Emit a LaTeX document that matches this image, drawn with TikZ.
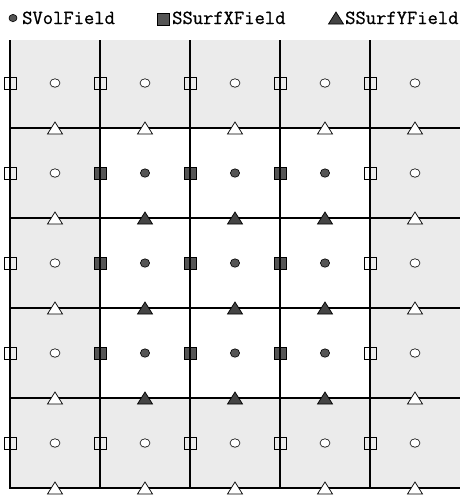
\documentclass[tikz,border=0pt]{standalone}
\usepackage{fontspec}
\newfontfamily\legendfont[AutoFakeBold=0.8]{Latin Modern Mono}
\usetikzlibrary{shadows}

\definecolor{ghost}{RGB}{235,235,235}
\definecolor{darkfield}{RGB}{85,85,85}

\begin{document}
\begin{tikzpicture}[x=1pt, y=-1pt, line join=miter]

    % 格子: 列线 x = 10 + 90 i, 行线 y = 128 + 90 j (图像坐标, y 向下)
    \tikzset{
      gridline/.style={line width=1.9pt},
      vol/.style={draw=black, line width=0.6pt, fill=white,
        drop shadow={opacity=0.15, shadow xshift=-0.6pt, shadow yshift=-1.2pt}},
      voldark/.style={vol, fill=darkfield},
      surf/.style={draw=black, line width=0.7pt},
      surfdark/.style={surf, fill=darkfield},
      legendtext/.style={anchor=base west, inner sep=0pt,
        font=\legendfont\bfseries\fontsize{20}{22}\selectfont}
    }
    \useasboundingbox (0,0) rectangle (469,499);

    % 1. 背景 (幽灵单元为灰色, 内部单元为白色)
    \fill[ghost] (10,40) rectangle (460,489);
    \fill[white] (100,128) rectangle (370,398);

    % 2. 内部单元的 x 面 (深色方块, 在网格线之下)
    \foreach \x in {100,190,280}
      \foreach \y in {173,263,353}
        \draw[surfdark] (\x,\y) +(-6,-6) rectangle +(6,6);

    % 3. 网格线
    \foreach \x in {10,100,190,280,370}
      \draw[gridline] (\x,40) -- (\x,489);
    \foreach \y in {128,218,308,398,488}
      \draw[gridline] (10,\y) -- (460,\y);

    % 4. 幽灵 x 面 (空心方块)
    \foreach \x in {10,100,190,280,370}
      \foreach \y in {83,443}
        \draw[surf] (\x,\y) +(-6,-6) rectangle +(6,6);
    \foreach \x in {10,370}
      \foreach \y in {173,263,353}
        \draw[surf] (\x,\y) +(-6,-6) rectangle +(6,6);

    % 5. y 面 (三角形)
    \foreach \x in {55,145,235,325,415}
      \foreach \y in {128,218,308,398,488} {
        \pgfmathsetmacro{\inner}{(\x>100 && \x<370 && \y>200 && \y<400) ? 1 : 0}
        \ifdim\inner pt>0.5pt
          \draw[surf, fill=darkfield!80!black] (\x,\y) +(-7.5,6) -- +(0,-6) -- +(7.5,6) -- cycle;
        \else
          \draw[surf, fill=white] (\x,\y) +(-7.5,6) -- +(0,-6) -- +(7.5,6) -- cycle;
        \fi
      }

    % 6. 体心 (圆)
    \foreach \x in {55,145,235,325,415}
      \foreach \y in {83,173,263,353,443} {
        \pgfmathsetmacro{\inner}{(\x>100 && \x<370 && \y>128 && \y<398) ? 1 : 0}
        \ifdim\inner pt>0.5pt
          \draw[voldark] (\x,\y) ellipse (4.6 and 4.2);
        \else
          \draw[vol] (\x,\y) ellipse (5 and 4.2);
        \fi
      }

    % 7. 图例
    \draw[voldark] (13,18) ellipse (4 and 3.6);
    \node[legendtext] (volLabel) at (22,24) {SVolField};
    \draw[surfdark] (163,19) +(-6,-6) rectangle +(6,6);
    \node[legendtext] (surfxLabel) at (172,24) {SSurfXField};
    \draw[surf, fill=darkfield!80!black] (336,18) +(-7.5,6) -- +(0,-6) -- +(7.5,6) -- cycle;
    \node[legendtext] (surfyLabel) at (345,24) {SSurfYField};

\end{tikzpicture}
\end{document}
